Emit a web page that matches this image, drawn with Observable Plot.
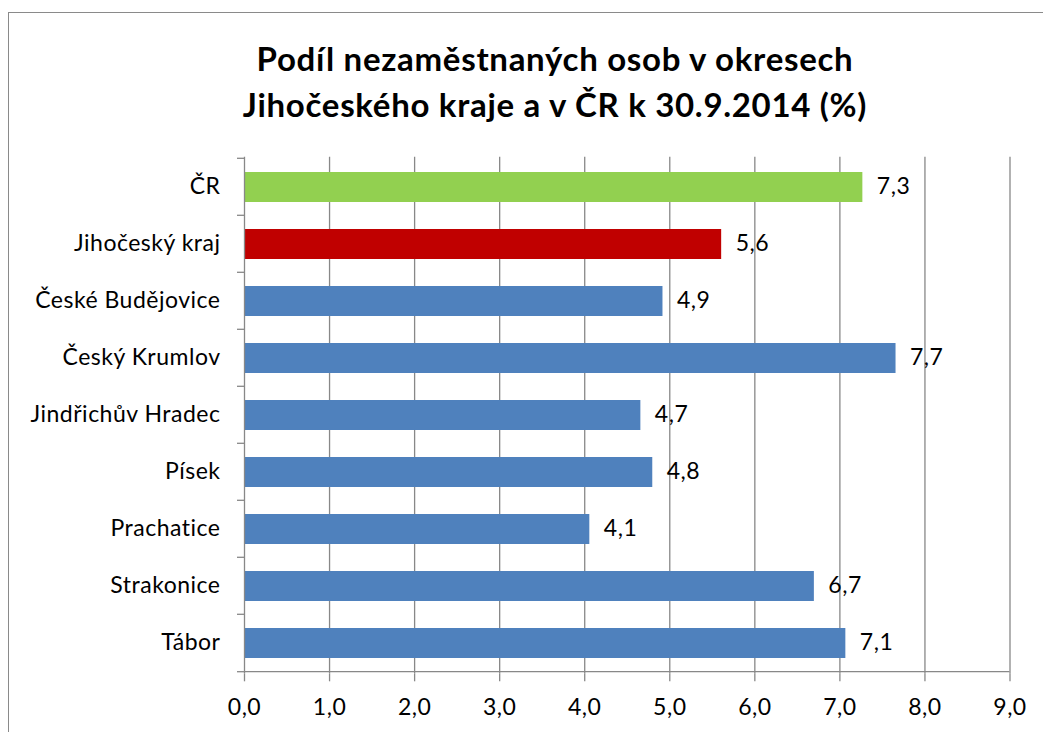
<!DOCTYPE html>
<html><head><meta charset="utf-8">
<script src="https://cdn.jsdelivr.net/npm/d3@7"></script>
<script src="https://cdn.jsdelivr.net/npm/@observablehq/plot@0.6"></script>
<style>
body{margin:0;background:#fff;}
#wrap{position:relative;width:1043px;height:732px;overflow:hidden;font-family:Lato,sans-serif;}
#frame{position:absolute;left:8px;top:12px;width:1100px;height:800px;border:1.5px solid #8a8a8a;box-sizing:border-box}
#title{position:absolute;left:0;width:1110px;top:35px;text-align:center;font-weight:bold;font-size:33px;letter-spacing:0.7px;line-height:46px;color:#000}
#chart{position:absolute;left:0;top:150px}
</style></head><body>
<div id="wrap"><div id="frame"></div>
<div id="title">Podíl nezaměstnaných osob v okresech<br>Jihočeského kraje a v ČR k 30.9.2014 (%)</div>
<div id="chart"></div></div>
<script>
const categories = ["ČR", "Jihočeský kraj", "České Budějovice", "Český Krumlov", "Jindřichův Hradec", "Písek", "Prachatice", "Strakonice", "Tábor"];
const values = [7.27, 5.61, 4.92, 7.66, 4.66, 4.8, 4.06, 6.7, 7.07];
const groups = ["ČR", "kraj", "okres", "okres", "okres", "okres", "okres", "okres", "okres"];
const xTicks = [0, 1, 2, 3, 4, 5, 6, 7, 8, 9];

const data = categories.map((c, i) => ({category: c, value: values[i], group: groups[i]}));
const fmt = d => d.toFixed(1).replace(".", ",");
const H = 582, mt = 6.7, mb = 58.7;
const band = (H - mt - mb) / categories.length;
const grey = "#888888";

const plot = Plot.plot({
  width: 1043, height: H,
  marginLeft: 244, marginRight: 33.5, marginTop: mt, marginBottom: mb,
  style: {fontFamily: "Lato, sans-serif", fontSize: "23px", letterSpacing: "0.5px", color: "#000", background: "transparent"},
  x: {domain: [0, 9], label: null},
  y: {domain: categories, padding: 0, label: null},
  color: {domain: ["ČR", "kraj", "okres"], range: ["#92D050", "#C00000", "#4F81BD"]},
  marks: [
    Plot.ruleX(xTicks.slice(1), {stroke: grey, strokeWidth: 1.3}),
    Plot.barX(data, {x: "value", y: "category", fill: "group", insetTop: 14, insetBottom: 13}),
    Plot.ruleX([0], {stroke: grey, strokeWidth: 1.3}),
    Plot.ruleY([categories[categories.length - 1]], {dy: band / 2, stroke: grey, strokeWidth: 1.3}),
    Plot.axisX({ticks: xTicks, tickSize: 8, tickPadding: 17, stroke: grey, strokeWidth: 1.3, tickFormat: fmt, label: null}),
    Plot.axisY({tickSize: 0, tickPadding: 24, label: null}),
    Plot.axisY({tickSize: 7, tickFormat: () => "", dy: -band / 2, stroke: grey, strokeWidth: 1.3, label: null}),
    Plot.axisY({ticks: [categories[categories.length - 1]], tickSize: 7, tickFormat: () => "", dy: band / 2, stroke: grey, strokeWidth: 1.3, label: null}),
    Plot.text(data, {x: "value", y: "category", text: d => fmt(d.value), dx: 14, textAnchor: "start", fill: "#000", fontSize: 23})
  ]
});
document.getElementById("chart").appendChild(plot);
</script>
</body></html>
